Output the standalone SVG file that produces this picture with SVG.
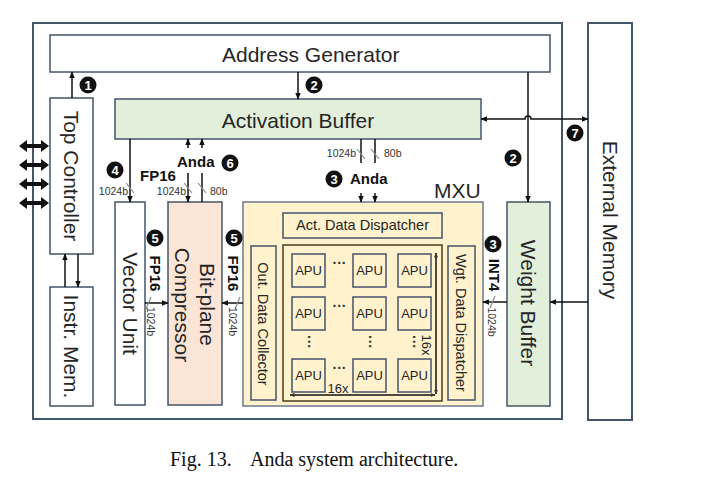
<svg xmlns="http://www.w3.org/2000/svg" width="712" height="479" viewBox="0 0 712 479">
<style>
.box{stroke:#44546a;stroke-width:1.5}
.frame{fill:none;stroke:#44546a;stroke-width:2}
.w{fill:#ffffff}
.g{fill:#e2efda}
.p{fill:#fbe5d6}
.y{fill:#fff2cc}
.lbl{font-family:"Liberation Sans",Arial,sans-serif;font-size:21px;fill:#262626}
.sm{font-family:"Liberation Sans",Arial,sans-serif;font-size:14.5px;fill:#262626}
.apu{font-family:"Liberation Sans",Arial,sans-serif;font-size:13px;fill:#262626;text-anchor:middle}
.b{font-family:"Liberation Sans",Arial,sans-serif;font-size:15px;font-weight:bold;fill:#111}
.bw{font-family:"Liberation Sans",Arial,sans-serif;font-size:10.5px;fill:#333}
.ln{fill:none;stroke:#111;stroke-width:1.5}
.sl{stroke:#8c8c8c;stroke-width:1.2}
.num circle{fill:#111}
.num text{font-family:"Liberation Sans",Arial,sans-serif;font-size:13px;font-weight:bold;fill:#fff;text-anchor:middle}
.dots{font-family:"Liberation Sans",Arial,sans-serif;font-size:14px;font-weight:bold;fill:#333;text-anchor:middle}
.cap{font-family:"Liberation Serif","Times New Roman",serif;font-size:20px;fill:#111}
</style>
<defs>
<marker id="ah" viewBox="0 0 10 10" refX="9" refY="5" markerWidth="7" markerHeight="7" markerUnits="userSpaceOnUse" orient="auto-start-reverse">
<path d="M0,1 L10,5 L0,9 z" fill="#111"/>
</marker>
<marker id="ahs" viewBox="0 0 10 10" refX="9" refY="5" markerWidth="5" markerHeight="5" markerUnits="userSpaceOnUse" orient="auto-start-reverse">
<path d="M0,1 L10,5 L0,9 z" fill="#333"/>
</marker>
</defs>

<rect id="system-frame" class="frame" x="33" y="23" width="529" height="396"/>

<g id="address-generator">
<rect class="box w" x="50" y="35" width="500" height="37"/>
<text class="lbl" x="222" y="62">Address Generator</text>
</g>
<g id="top-controller">
<rect class="box w" x="50" y="98" width="43" height="156"/>
<text class="lbl" text-anchor="middle" transform="translate(64,176) rotate(90)">Top Controller</text>
</g>
<g id="instr-mem">
<rect class="box w" x="50" y="287" width="43" height="119"/>
<text class="lbl" text-anchor="middle" transform="translate(64,346.5) rotate(90)">Instr. Mem.</text>
</g>
<g id="activation-buffer">
<rect class="box g" x="115" y="99" width="366" height="40"/>
<text class="lbl" text-anchor="middle" x="298" y="128">Activation Buffer</text>
</g>
<g id="vector-unit">
<rect class="box w" x="115" y="202" width="30" height="203"/>
<text class="lbl" text-anchor="middle" transform="translate(122.5,303.5) rotate(90)">Vector Unit</text>
</g>
<g id="bit-plane-compressor">
<rect class="box p" x="168" y="202" width="54" height="203"/>
<text class="lbl" text-anchor="middle" transform="translate(200,304.5) rotate(90)">Bit-plane</text>
<text class="lbl" text-anchor="middle" transform="translate(175,305) rotate(90)">Compressor</text>
</g>
<g id="mxu">
<rect class="y" x="243" y="202" width="240" height="204" stroke="#6b7a93" stroke-width="1.5"/>
<text class="lbl" x="434" y="198">MXU</text>
</g>
<g id="act-data-dispatcher">
<rect class="box y" x="283" y="213" width="159" height="25" stroke-width="1.2"/>
<text class="sm" text-anchor="middle" x="362.5" y="230">Act. Data Dispatcher</text>
</g>
<g id="out-data-collector">
<rect class="box y" x="251" y="246" width="25" height="154" stroke-width="1.2"/>
<text class="sm" text-anchor="middle" transform="translate(258,324) rotate(90)">Out. Data Collector</text>
</g>
<g id="wgt-data-dispatcher">
<rect class="box y" x="448" y="246" width="27" height="154" stroke-width="1.2"/>
<text class="sm" text-anchor="middle" transform="translate(455.5,323) rotate(90)">Wgt. Data Dispatcher</text>
</g>
<g id="apu-array">
<rect x="283" y="245" width="159" height="156" fill="none" stroke="#4d3d1f" stroke-width="1.5"/>
<g class="box y" stroke-width="1.2">
<rect x="292" y="254" width="33" height="33"/><rect x="353" y="254" width="33" height="33"/><rect x="398" y="254" width="33" height="33"/>
<rect x="292" y="297" width="33" height="33"/><rect x="353" y="297" width="33" height="33"/><rect x="398" y="297" width="33" height="33"/>
<rect x="292" y="359" width="33" height="33"/><rect x="353" y="359" width="33" height="33"/><rect x="398" y="359" width="33" height="33"/>
</g>
<text class="apu" x="308.5" y="275">APU</text><text class="apu" x="369.5" y="275">APU</text><text class="apu" x="414.5" y="275">APU</text>
<text class="apu" x="308.5" y="318">APU</text><text class="apu" x="369.5" y="318">APU</text><text class="apu" x="414.5" y="318">APU</text>
<text class="apu" x="308.5" y="380">APU</text><text class="apu" x="369.5" y="380">APU</text><text class="apu" x="414.5" y="380">APU</text>
<text class="dots" x="339.5" y="268">···</text>
<text class="dots" x="339.5" y="311">···</text>
<text class="dots" x="339.5" y="373">···</text>
<text class="dots" transform="translate(303.5,342) rotate(90)">···</text>
<text class="dots" transform="translate(364.5,342) rotate(90)">···</text>
<text class="dots" transform="translate(408.5,342) rotate(90)">···</text>
<line class="ln" x1="290" y1="395" x2="435" y2="395" stroke-width="1" marker-start="url(#ahs)" marker-end="url(#ahs)"/>
<line class="ln" x1="436" y1="253" x2="436" y2="394" stroke-width="1" marker-start="url(#ahs)" marker-end="url(#ahs)"/>
<text class="apu" x="338" y="393">16x</text>
<text class="apu" transform="translate(422,345) rotate(90)">16x</text>
</g>
<g id="weight-buffer">
<rect class="box g" x="507" y="202" width="43" height="204"/>
<text class="lbl" text-anchor="middle" transform="translate(521,303) rotate(90)">Weight Buffer</text>
</g>
<g id="external-memory">
<rect class="frame w" x="588" y="23" width="44" height="397"/>
<text class="lbl" text-anchor="middle" font-size="21.5" transform="translate(602.5,220) rotate(90)">External Memory</text>
</g>

<g id="connectors">
<g fill="#111">
<polygon points="19,146 27,140 27,144 41,144 41,140 49,146 41,152 41,148 27,148 27,152"/>
<polygon points="19,165 27,159 27,163 41,163 41,159 49,165 41,171 41,167 27,167 27,171"/>
<polygon points="19,184 27,178 27,182 41,182 41,178 49,184 41,190 41,186 27,186 27,190"/>
<polygon points="19,203 27,197 27,201 41,201 41,197 49,203 41,209 41,205 27,205 27,209"/>
</g>
<line class="ln" x1="72" y1="98" x2="72" y2="72" marker-end="url(#ah)"/>
<line class="ln" x1="65" y1="287" x2="65" y2="254" marker-end="url(#ah)"/>
<line class="ln" x1="78" y1="254" x2="78" y2="287" marker-end="url(#ah)"/>
<line class="ln" x1="298" y1="72" x2="298" y2="99" marker-end="url(#ah)"/>
<line class="ln" x1="528" y1="72" x2="528" y2="202" marker-end="url(#ah)"/>
<path class="ln" d="M481,119 H525 a3,3 0 0 1 6,0 H588" marker-start="url(#ah)" marker-end="url(#ah)"/>
<line class="ln" x1="588" y1="302" x2="550" y2="302" marker-end="url(#ah)"/>
<line class="ln" x1="507" y1="302" x2="483" y2="302" marker-end="url(#ah)"/>
<line class="ln" x1="130" y1="139" x2="130" y2="202" marker-end="url(#ah)"/>
<line class="ln" x1="188" y1="148" x2="188" y2="139" marker-end="url(#ah)"/>
<line class="ln" x1="202" y1="148" x2="202" y2="139" marker-end="url(#ah)"/>
<line class="ln" x1="188" y1="173" x2="188" y2="202" marker-end="url(#ah)"/>
<line class="ln" x1="202" y1="173" x2="202" y2="202"/>
<line class="ln" x1="361" y1="139" x2="361" y2="163"/>
<line class="ln" x1="375" y1="139" x2="375" y2="163"/>
<line class="ln" x1="361" y1="193" x2="361" y2="202" marker-end="url(#ah)"/>
<line class="ln" x1="375" y1="193" x2="375" y2="202" marker-end="url(#ah)"/>
<line class="ln" x1="145" y1="303" x2="168" y2="303" marker-end="url(#ah)"/>
<line class="ln" x1="243" y1="303" x2="222" y2="303" marker-end="url(#ah)"/>
<g class="sl">
<line x1="126" y1="183" x2="134" y2="193"/>
<line x1="184" y1="183" x2="192" y2="193"/>
<line x1="198" y1="183" x2="206" y2="193"/>
<line x1="357" y1="149" x2="365" y2="159"/>
<line x1="371" y1="149" x2="379" y2="159"/>
<line x1="146" y1="309" x2="151" y2="297"/>
<line x1="235" y1="309" x2="240" y2="297"/>
<line x1="490" y1="308" x2="495" y2="296"/>
</g>
<text class="bw" text-anchor="end" x="128" y="195">1024b</text>
<text class="bw" text-anchor="end" x="186" y="195">1024b</text>
<text class="bw" x="210" y="195">80b</text>
<text class="bw" text-anchor="end" x="356" y="157">1024b</text>
<text class="bw" x="384" y="157">80b</text>
<text class="bw" text-anchor="middle" transform="translate(147,321.5) rotate(90)">1024b</text>
<text class="bw" text-anchor="middle" transform="translate(229,321.5) rotate(90)">1024b</text>
<text class="bw" text-anchor="middle" transform="translate(488,322) rotate(90)">1024b</text>
<text class="b" x="140" y="181" font-size="14.5">FP16</text>
<text class="b" x="177" y="167">Anda</text>
<text class="b" x="350" y="184">Anda</text>
<text class="b" text-anchor="middle" transform="translate(150,273.5) rotate(90)">FP16</text>
<text class="b" text-anchor="middle" transform="translate(228,273.5) rotate(90)">FP16</text>
<text class="b" text-anchor="middle" font-size="15.5" transform="translate(489,275) rotate(90)">INT4</text>
<g class="num">
<circle cx="88" cy="85" r="8.5"/><text x="88" y="89.5">1</text>
<circle cx="314" cy="85" r="8.5"/><text x="314" y="89.5">2</text>
<circle cx="513" cy="158" r="8.5"/><text x="513" y="162.5">2</text>
<circle cx="575" cy="133" r="8.5"/><text x="575" y="137.5">7</text>
<circle cx="115" cy="170" r="8.5"/><text x="115" y="174.5">4</text>
<circle cx="230" cy="163" r="8.5"/><text x="230" y="167.5">6</text>
<circle cx="334" cy="179" r="8.5"/><text x="334" y="183.5">3</text>
<circle cx="155" cy="238" r="8.5"/><text x="155" y="242.5">5</text>
<circle cx="234" cy="238" r="8.5"/><text x="234" y="242.5">5</text>
<circle cx="493" cy="244" r="8.5"/><text x="493" y="248.5">3</text>
</g>
</g>

<text class="cap" x="170" y="466">Fig. 13.</text>
<text class="cap" x="250" y="466">Anda system architecture.</text>
</svg>
